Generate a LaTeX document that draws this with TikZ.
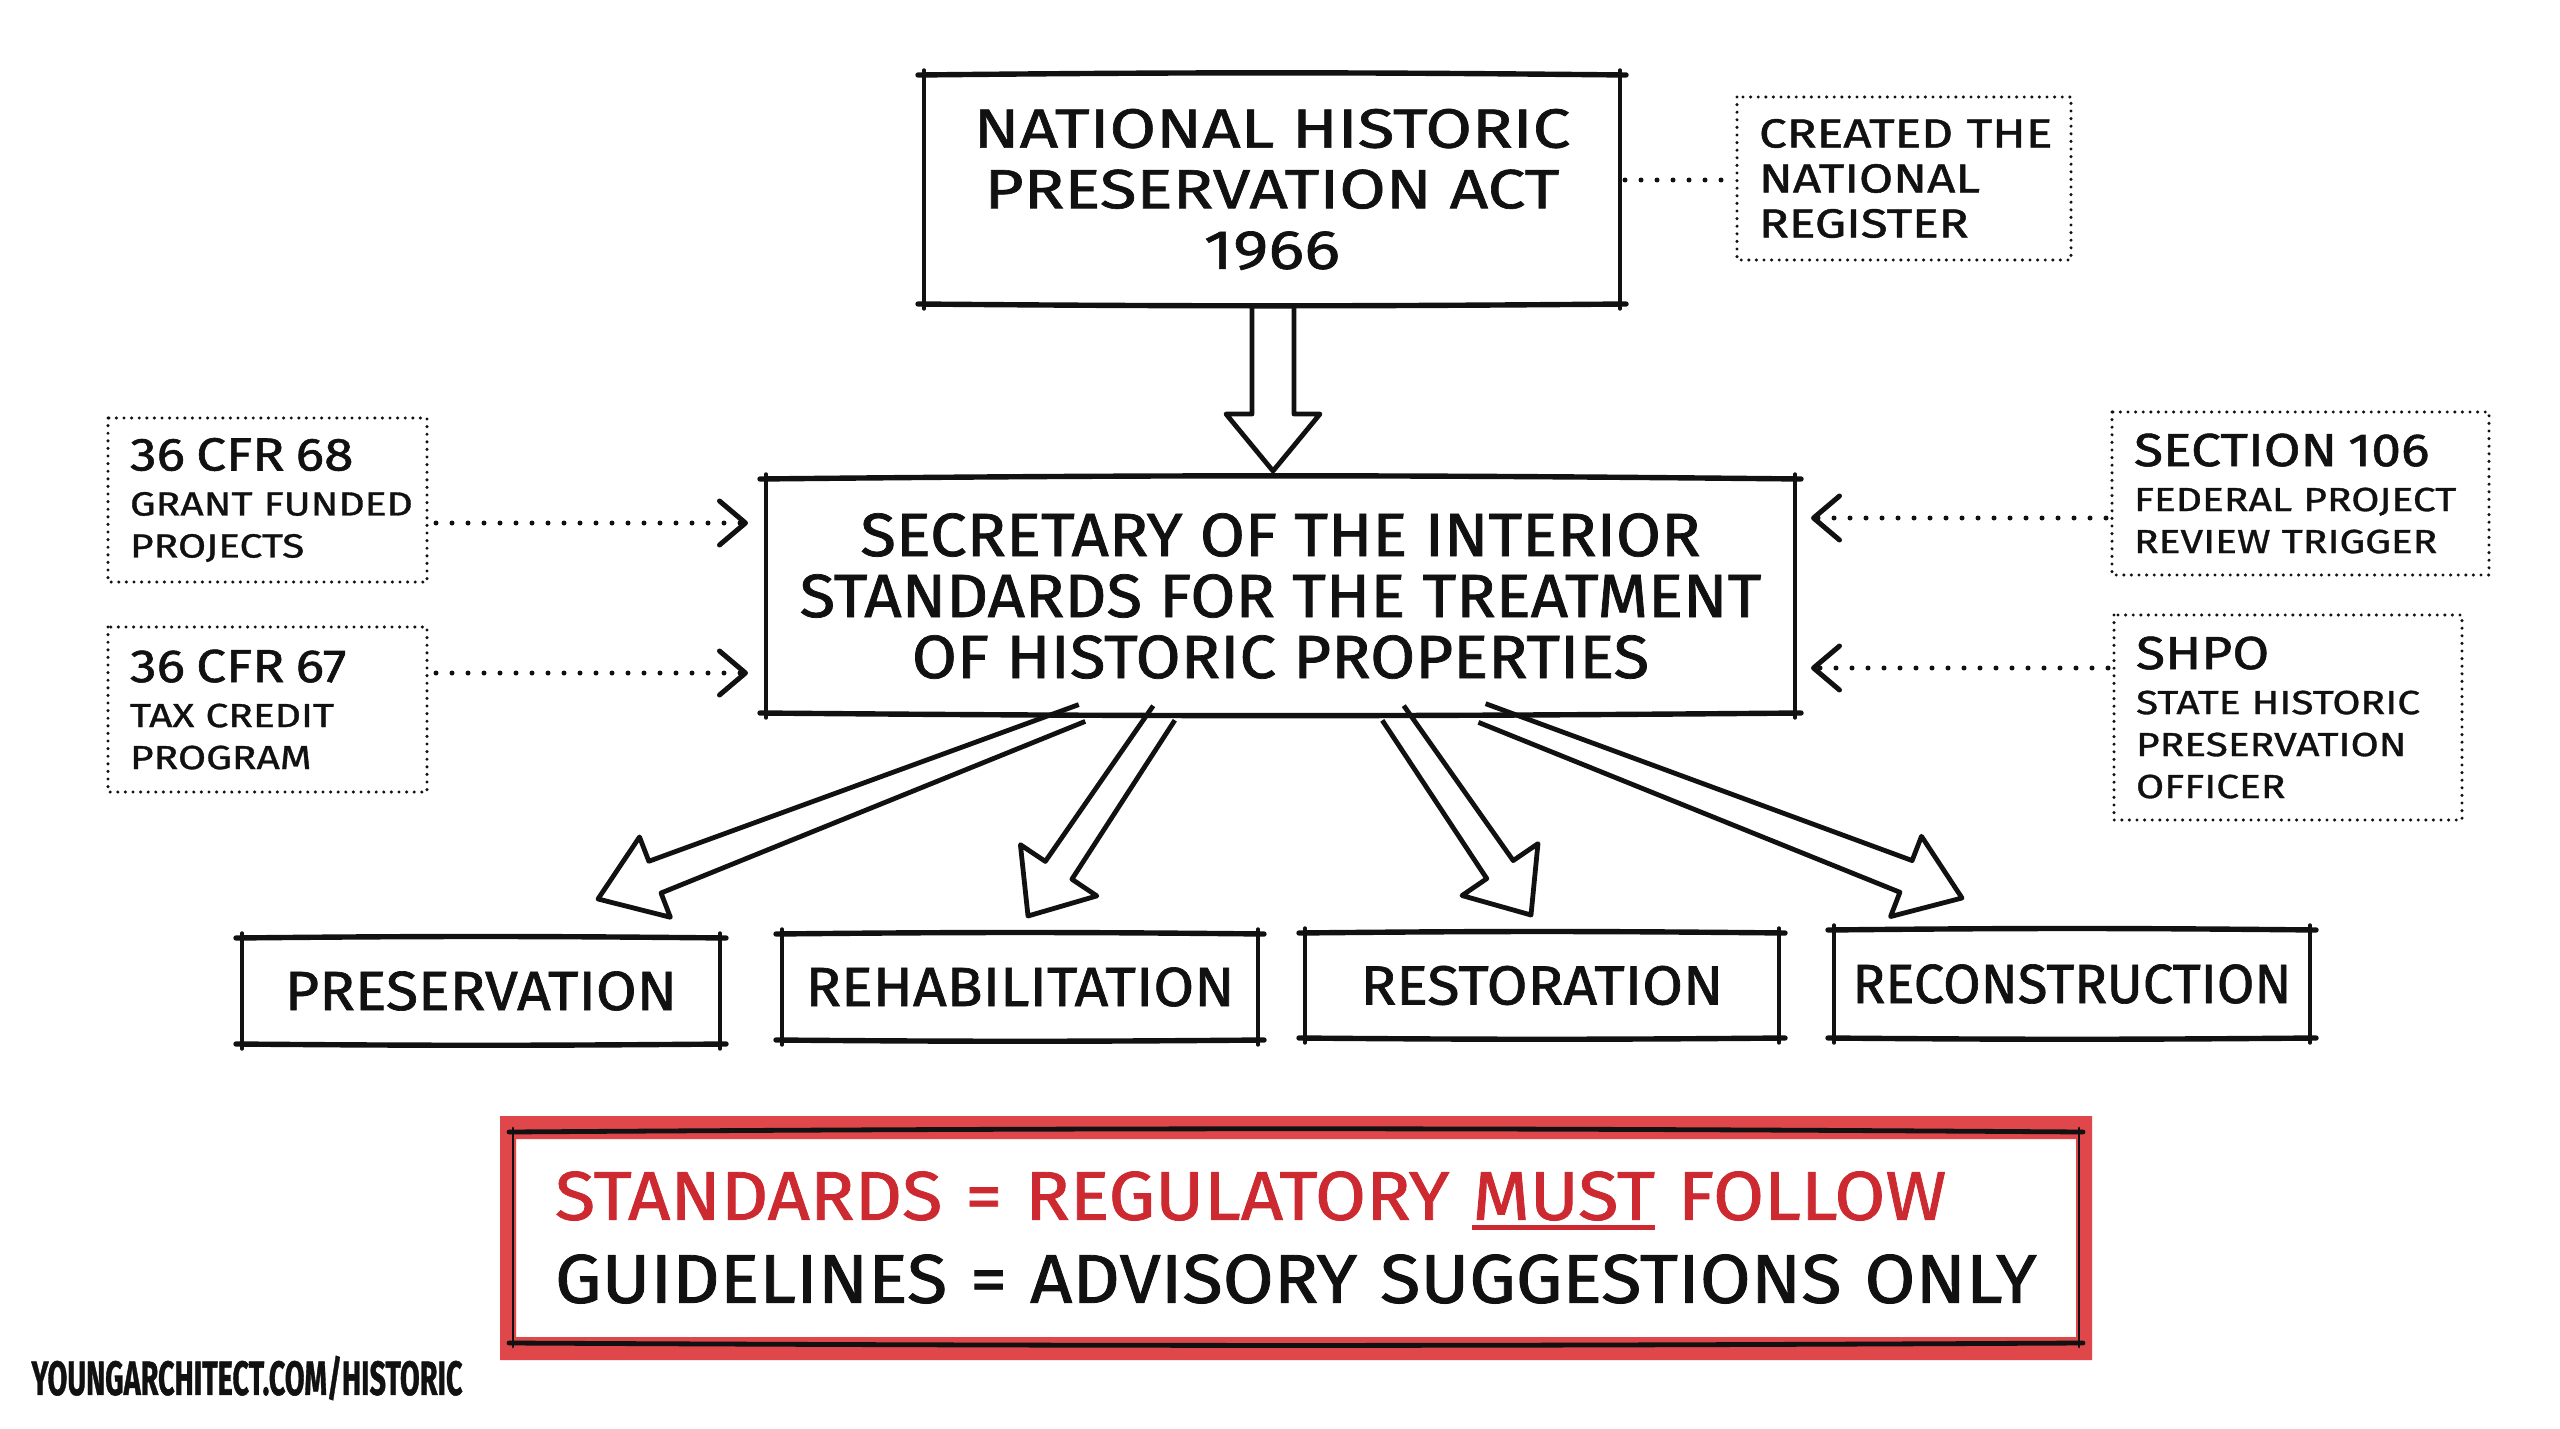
\documentclass[tikz,border=0pt]{standalone}
\usepackage{fontspec}
\usepackage{graphicx}
\setmainfont{Fira Sans}[FakeStretch=1.07, FakeBold=1.2]
\newfontfamily\topfont{Fira Sans}[FakeStretch=1.22, FakeBold=1.2]
\newfontfamily\headfont{Fira Sans}[FakeStretch=1.15, FakeBold=1.2]
\newfontfamily\bodyfont{Fira Sans}[FakeStretch=1.22, FakeBold=1.0]
\usetikzlibrary{arrows.meta,calc}
\definecolor{ink}{HTML}{111111}
\definecolor{redtxt}{HTML}{CC2A30}
\definecolor{redband}{HTML}{E0474B}
\newcommand\ulthick[1]{\setbox0=\hbox{#1}\rlap{\rule[-5pt]{\wd0}{2.5pt}}\box0\relax}
\newcommand\handbox[1]{%
  \draw[hside] ([yshift=2.5pt]#1.north west) -- ([yshift=-2.5pt]#1.south west);
  \draw[hside] ([yshift=2.5pt]#1.north east) -- ([yshift=-2.5pt]#1.south east);
  \draw[hedge] ([xshift=-3pt]#1.north west) to[bend left=0.6] ([xshift=3pt]#1.north east);
  \draw[hedge] ([xshift=-3pt]#1.south west) to[bend right=0.5] ([xshift=3pt]#1.south east);
}
\newcommand\blockarrow[6]{%
  \coordinate (bs) at #1;
  \coordinate (bt) at #2;
  \coordinate (bh) at ($(bt)!#6!(bs)$);
  \draw[hollow] ($(bs)!#3!90:(bt)$) -- ($(bh)!#4!90:(bt)$) -- ($(bh)!#5!90:(bt)$) -- (bt)
    -- ($(bh)!#5!-90:(bt)$) -- ($(bh)!#4!-90:(bt)$) -- ($(bs)!#3!-90:(bt)$);
}
\tikzset{
  hside/.style={line width=1.7pt, line cap=round, draw=ink},
  hedge/.style={line width=2.7pt, line cap=round, draw=ink},
  calloutbox/.style={draw=ink, line width=1.7pt, line cap=round, dash pattern=on 0pt off 3.8pt},
  boxnode/.style={inner sep=0pt, outer sep=0pt, align=center, text=ink},
  callnode/.style={inner xsep=11pt, inner ysep=0pt, outer sep=0pt, align=left, text=ink,
    minimum width=#1, text width={#1-22pt}},
  dotline/.style={draw=ink, line width=2.5pt, line cap=round, dash pattern=on 0pt off 8pt},
  dotarrow/.style={dotline, -{Straight Barb[length=13pt,width=22pt,line width=2.5pt,round]}},
  hollow/.style={draw=ink, fill=white, line width=2.4pt, line join=round},
  bigtext/.style={font=\fontsize{27.6}{30.3}\selectfont},
  smallcall/.style={font=\bodyfont\fontsize{16.7}{21}\selectfont},
}
\begin{document}
\begin{tikzpicture}[x=0.5pt,y=-0.5pt]
\useasboundingbox (0,0) rectangle (2560,1429);
\fill[white] (0,0) rectangle (2560,1429);

% main nodes
\node[boxnode, minimum width=348pt, minimum height=114.5pt,
  font=\topfont\fontsize{27.6}{30.3}\selectfont] (nhpa) at (1272,189.5)
  {NATIONAL HISTORIC\\PRESERVATION ACT\\1966};
\node[callnode=167pt, minimum height=81.5pt,
  font=\topfont\fontsize{20.3}{22.5}\selectfont] (created) at (1904,178.5)
  {\mbox{CREATED THE}\\\mbox{NATIONAL}\\\mbox{REGISTER}};
\node[boxnode, minimum width=514.5pt, minimum height=117pt,
  font=\fontsize{30.5}{30.5}\selectfont] (soi) at (1280.5,596)
  {SECRETARY OF THE INTERIOR\\STANDARDS FOR THE TREATMENT\\OF HISTORIC PROPERTIES};

% callouts
\node[callnode=159.5pt, smallcall, minimum height=82pt] (cfr68) at (267.5,500)
  {{\headfont\fontsize{23.2}{21}\selectfont \mbox{36 CFR 68}}\\[1.5pt]\mbox{GRANT FUNDED}\\\mbox{PROJECTS}};
\node[callnode=159.5pt, smallcall, minimum height=82.5pt] (cfr67) at (267.5,709.5)
  {{\headfont\fontsize{23.2}{21}\selectfont \mbox{36 CFR 67}}\\[1.5pt]\mbox{TAX CREDIT}\\\mbox{PROGRAM}};
\node[callnode=188.5pt, smallcall, minimum height=81.5pt] (sec106) at (2300.5,493.5)
  {{\headfont\fontsize{23.2}{21}\selectfont \mbox{SECTION 106}}\\[1.5pt]\mbox{FEDERAL PROJECT}\\\mbox{REVIEW TRIGGER}};
\node[callnode=174pt, smallcall, minimum height=102.5pt] (shpo) at (2288,717.5)
  {{\headfont\fontsize{23.2}{21}\selectfont \mbox{SHPO}}\\[1.5pt]\mbox{STATE HISTORIC}\\\mbox{PRESERVATION}\\\mbox{OFFICER}};

% treatment boxes
\node[boxnode, bigtext, minimum width=239pt, minimum height=53pt] (pres) at (481,991) {PRESERVATION};
\node[boxnode, bigtext, minimum width=238pt, minimum height=53pt] (rehab) at (1020,987) {REHABILITATION};
\node[boxnode, bigtext, minimum width=237pt, minimum height=52.5pt] (resto) at (1542,985.5) {RESTORATION};
\node[boxnode, bigtext, minimum width=238pt, minimum height=54pt] (recon) at (2072,984) {\scalebox{0.92}[1]{RECONSTRUCTION}};

% red summary box
\node[callnode=783pt, inner xsep=21pt, text width=741pt, minimum height=105.5pt,
  font=\fontsize{34.5}{41.5}\selectfont] (redbox) at (1296,1237.5)
  {\textcolor{redtxt}{\mbox{STANDARDS = REGULATORY \ulthick{MUST} FOLLOW}}\\\mbox{GUIDELINES = ADVISORY SUGGESTIONS ONLY}};

% footer
\node[inner sep=0pt, text=ink, font=\bfseries\fontsize{24}{24}\selectfont] (footer) at (247,1378)
  {\scalebox{0.56}[1]{YOUNGARCHITECT.COM/HISTORIC}};

% hollow block arrows
\blockarrow{($(nhpa.south)+(1,0)$)}{($(soi.north)+(-7.5,-8)$)}{10.5pt}{10.5pt}{23.5pt}{28.5pt}
\blockarrow{($(soi.south)+(-198.5,0)$)}{($(pres.north)+(117,-39)$)}{4.5pt}{8.5pt}{21.5pt}{30.5pt}
\blockarrow{($(soi.south)+(-116.5,0)$)}{($(rehab.north)+(8,-18)$)}{6.5pt}{8pt}{23pt}{27.5pt}
\blockarrow{($(soi.south)+(112.5,0)$)}{($(resto.north)+(-11,-18)$)}{6.5pt}{8pt}{23pt}{27.5pt}
\blockarrow{($(soi.south)+(201.5,0)$)}{($(recon.north)+(-110,-32)$)}{5pt}{8.5pt}{21.5pt}{30pt}

% hand-drawn borders
\handbox{nhpa}
\handbox{soi}
\handbox{pres}
\handbox{rehab}
\handbox{resto}
\handbox{recon}
\foreach \n in {created,cfr68,cfr67,sec106,shpo}
  \draw[calloutbox] (\n.north west) rectangle (\n.south east);

% red band
\fill[redband, even odd rule]
  ($(redbox.north west)+(-13,-16)$) rectangle ($(redbox.south east)+(13,17)$)
  ($(redbox.north west)+(3,7)$) rectangle ($(redbox.south east)+(-3,-6)$);
\draw[line width=1.4pt, line cap=round, draw=ink] ([yshift=2pt]redbox.north west) -- ([yshift=-2pt]redbox.south west);
\draw[line width=1.4pt, line cap=round, draw=ink] ([yshift=2pt]redbox.north east) -- ([yshift=-2pt]redbox.south east);
\draw[line width=2.4pt, line cap=round, draw=ink] ([xshift=-2pt]redbox.north west) to[bend left=0.4] ([xshift=2pt]redbox.north east);
\draw[line width=2.4pt, line cap=round, draw=ink] ([xshift=-2pt]redbox.south west) to[bend right=0.3] ([xshift=2pt]redbox.south east);

% dotted connectors
\draw[dotline] ($(nhpa.east)+(5,-9.5)$) -- ($(created.west |- nhpa.east)+(-4,-9.5)$);
\draw[dotarrow] ($(cfr68.east)+(9,23)$) -- ($(soi.west |- cfr68.east)+(-18,23)$);
\draw[dotarrow] ($(cfr67.east)+(9,-36.5)$) -- ($(soi.west |- cfr67.east)+(-18,-36.5)$);
\draw[dotarrow] ($(sec106.west)+(-6,24.5)$) -- ($(soi.east |- sec106.west)+(16,24.5)$);
\draw[dotarrow] ($(shpo.west)+(-6,-49.5)$) -- ($(soi.east |- shpo.west)+(16,-49.5)$);
\end{tikzpicture}
\end{document}
